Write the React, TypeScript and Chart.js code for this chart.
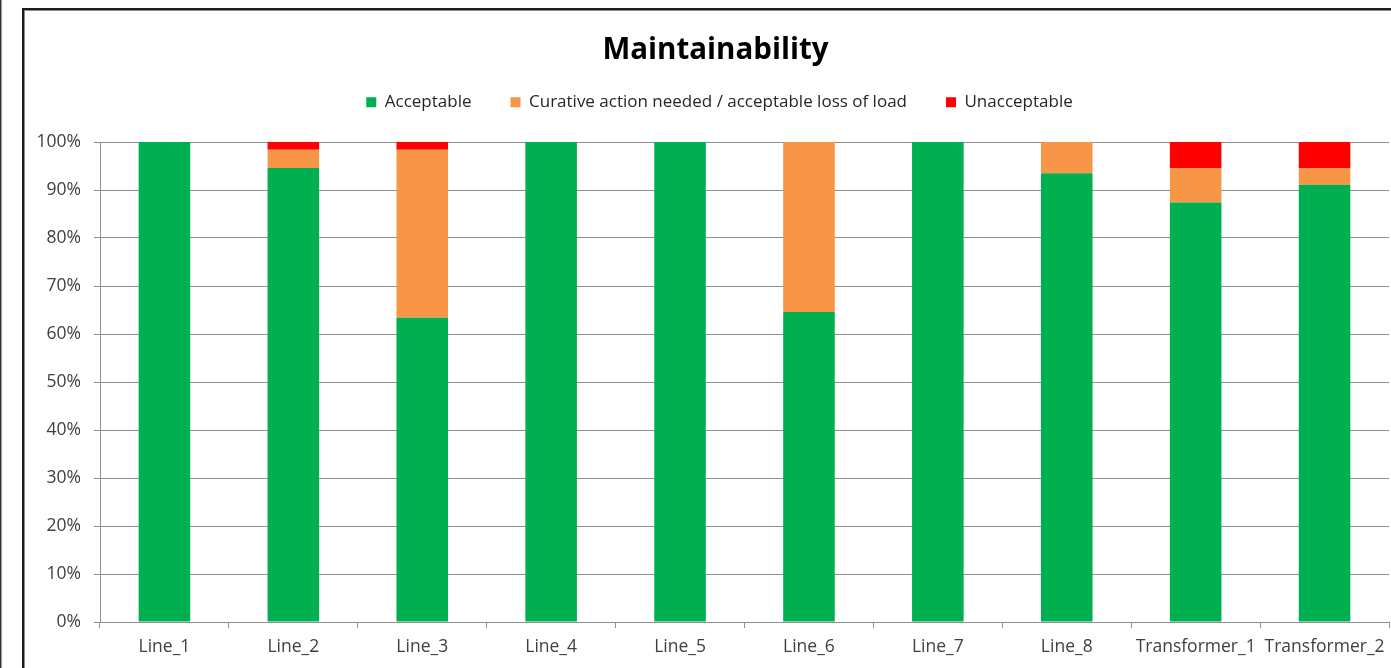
import React, { useEffect, useRef } from "react";
import { Chart, registerables } from "chart.js";

Chart.register(...registerables);

// Component / asset names along the x axis
const categories = [
  "Line_1",
  "Line_2",
  "Line_3",
  "Line_4",
  "Line_5",
  "Line_6",
  "Line_7",
  "Line_8",
  "Transformer_1",
  "Transformer_2",
];

// Share of cases (%) per outcome, stacked to 100 %
const acceptable = [100, 94.6, 63.4, 100, 100, 64.6, 100, 93.5, 87.4, 91.1];
const curative = [0, 3.8, 35.0, 0, 0, 35.4, 0, 6.5, 7.2, 3.5];
const unacceptable = [0, 1.6, 1.6, 0, 0, 0, 0, 0, 5.4, 5.4];

const seriesLabels = [
  "Acceptable",
  "Curative action needed / acceptable loss of load",
  "Unacceptable",
];
const seriesColors = ["#00B050", "#F79646", "#FF0000"];

const TEXT_FONT = "'Open Sans', sans-serif";
const GRID = "#8f8f8f";

// Adds empty space between the legend row and the plot area
const legendGap = {
  id: "legendGap",
  beforeInit(chart: any) {
    const legend = chart.legend;
    if (!legend) return;
    const originalFit = legend.fit;
    legend.fit = function fit() {
      originalFit.bind(legend)();
      this.height += 21.25;
    };
  },
};

// Centres title and legend over the frame rather than the full canvas
const headerShift = {
  id: "headerShift",
  afterLayout(chart: any) {
    const shifts: [any, number][] = [
      [chart.titleBlock, 21],
      [chart.legend, 25],
    ];
    for (const [box, dx] of shifts) {
      if (!box) continue;
      box.left += dx;
      box.right += dx;
    }
  },
};

export default function App() {
  const canvasRef = useRef<HTMLCanvasElement | null>(null);

  useEffect(() => {
    if (!canvasRef.current) return;
    const data = [acceptable, curative, unacceptable];
    const chart = new Chart(canvasRef.current, {
      type: "bar",
      data: {
        labels: categories,
        datasets: data.map((values, i) => ({
          label: seriesLabels[i],
          data: values,
          backgroundColor: seriesColors[i],
          borderWidth: 0,
          barPercentage: 0.4,
          categoryPercentage: 1,
        })),
      },
      options: {
        animation: false,
        responsive: false,
        devicePixelRatio: 1,
        layout: { padding: { left: 0, right: 2, top: 0, bottom: 1 } },
        plugins: {
          title: {
            display: true,
            text: "Maintainability",
            color: "#000000",
            font: { family: TEXT_FONT, size: 29.5, weight: "bold", lineHeight: 0.5 },
            padding: { top: 43, bottom: -3 },
          },
          legend: {
            display: true,
            position: "top",
            labels: {
              boxWidth: 10,
              boxHeight: 10,
              padding: 39,
              color: "#262626",
              font: { family: TEXT_FONT, size: 17 },
            },
          },
          tooltip: { enabled: false },
        },
        scales: {
          x: {
            stacked: true,
            grid: {
              display: true,
              drawOnChartArea: false,
              drawTicks: true,
              tickLength: 6,
              color: GRID,
              offset: true,
            },
            border: { display: true, color: GRID, width: 1 },
            ticks: {
              color: "#404040",
              font: { family: TEXT_FONT, size: 17.5 },
              padding: 9,
              maxRotation: 0,
              minRotation: 0,
              autoSkip: false,
            },
            afterFit(scale: any) {
              scale.paddingLeft = 0;
              scale.paddingRight = 0;
            },
          },
          y: {
            stacked: true,
            min: 0,
            max: 100,
            grid: {
              color: GRID,
              drawTicks: true,
              tickLength: 6,
            },
            border: { display: true, color: GRID, width: 1 },
            ticks: {
              stepSize: 10,
              color: "#404040",
              font: { family: TEXT_FONT, size: 17.5 },
              padding: 13,
              callback: (v: any) => `${v}%`,
            },
            afterFit(scale: any) {
              scale.width = 100;
            },
          },
        },
      },
      plugins: [legendGap, headerShift],
    });
    return () => chart.destroy();
  }, []);

  return (
    <div
      style={{
        position: "fixed",
        left: 0,
        top: 0,
        width: 1391,
        height: 668,
        overflow: "hidden",
        background: "#ffffff",
      }}
    >
      <div style={{ position: "absolute", left: 0, top: 0, width: 1, height: 668, background: "#333333" }} />
      <div style={{ position: "absolute", left: 1, top: 0, width: 1, height: 668, background: "#9a9a9a" }} />
      <div
        style={{
          position: "absolute",
          left: 22,
          top: 8,
          width: 3000,
          height: 3000,
          borderTop: "2px solid #1c1c1c",
          borderLeft: "2px solid #1c1c1c",
          boxShadow: "inset 1px 1px 0 0 #8a8a8a",
        }}
      />
      <canvas
        ref={canvasRef}
        width={1391}
        height={668}
        style={{ position: "absolute", left: 0, top: 0, width: 1391, height: 668 }}
      />
    </div>
  );
}
